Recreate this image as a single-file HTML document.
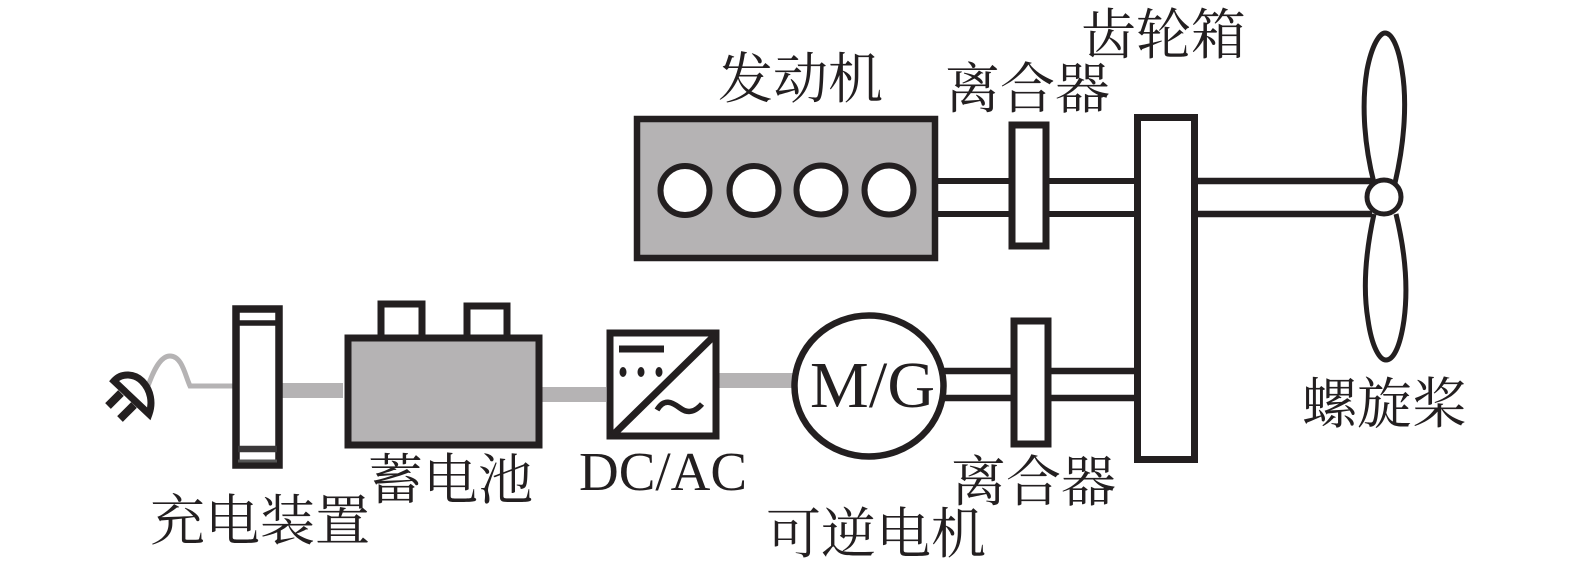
<!DOCTYPE html>
<html lang="zh">
<head>
<meta charset="utf-8">
<style>
html,body{margin:0;padding:0;background:#fff;width:1575px;height:575px;overflow:hidden}
svg{display:block}
text{fill:#231f20}
.c{font-family:"Liberation Serif","Noto Serif CJK SC",serif;font-size:55px}
.l{font-family:"Liberation Serif",serif;font-size:55px}
</style>
</head>
<body>
<svg width="1575" height="575" viewBox="0 0 1575 575" xmlns="http://www.w3.org/2000/svg">
<g fill="none" stroke="#231f20" stroke-width="6">
  <!-- grey links -->
  <rect x="282" y="383" width="61" height="15" fill="#b5b3b4" stroke="none"/>
  <rect x="542" y="387" width="64" height="15" fill="#b5b3b4" stroke="none"/>
  <rect x="719" y="373" width="74" height="15" fill="#b5b3b4" stroke="none"/>
  <path d="M148,386 C153,372 160,356 170,356 C182,356 185,375 190,386 L233,386" stroke="#b5b3b4" stroke-width="5"/>
  <!-- plug -->
  <path d="M114,381 C122,372 135,374 142,381 C151,390 153,403 149,414 Z" stroke-width="7" fill="#fff"/>
  <path d="M121,393 L108,406 M134,405 L120,419" stroke-width="8"/>
  <!-- charger -->
  <rect x="236" y="309" width="43" height="156" stroke-width="7.500" fill="#fff"/>
  <path d="M238,323 H277" stroke-width="5.500"/>
  <path d="M238,449 H277" stroke-width="6.500" stroke="#3a3839"/>
  <path d="M238,461 H277" stroke-width="3" stroke="#555"/>
  <!-- battery -->
  <rect x="381" y="304" width="41" height="34" stroke-width="7" fill="#fff"/>
  <rect x="467" y="306" width="40" height="32" stroke-width="7" fill="#fff"/>
  <rect x="348" y="338" width="191" height="107" stroke-width="7" fill="#b5b3b4"/>
  <!-- inverter -->
  <rect x="610" y="333" width="106" height="103" stroke-width="7" fill="#fff"/>
  <path d="M613,435 L715,335" stroke-width="7"/>
  <path d="M619,349 H664" stroke-width="7"/>
  <ellipse cx="623" cy="372" rx="3.500" ry="5" fill="#231f20" stroke="none"/>
  <ellipse cx="641" cy="372" rx="3.500" ry="5" fill="#231f20" stroke="none"/>
  <ellipse cx="659" cy="372" rx="3.500" ry="5" fill="#231f20" stroke="none"/>
  <path d="M657,410 C664,398 672,402 680,408 C688,414 695,412 702,404" stroke-width="5.500"/>
  <!-- lower shafts -->
  <path d="M942,371 H1134 M942,398 H1134" stroke-width="6.500"/>
  <!-- motor -->
  <ellipse cx="869" cy="386" rx="74.500" ry="70.500" stroke-width="6.500" fill="#fff"/>
  <!-- upper shafts -->
  <path d="M937,181 H1134 M937,214 H1134" stroke-width="6"/>
  <path d="M1198,181 H1372 M1198,214 H1372" stroke-width="6.500"/>
  <!-- engine -->
  <rect x="637" y="119" width="298" height="139" fill="#b5b3b4" stroke-width="6.500"/>
  <circle cx="685" cy="190.500" r="24.500" fill="#fff" stroke-width="6"/>
  <circle cx="754" cy="190.500" r="24.500" fill="#fff" stroke-width="6"/>
  <circle cx="821" cy="190" r="24.500" fill="#fff" stroke-width="6"/>
  <circle cx="889" cy="190" r="24.500" fill="#fff" stroke-width="6"/>
  <!-- clutches -->
  <rect x="1012" y="125" width="34" height="121" stroke-width="7" fill="#fff"/>
  <rect x="1014" y="321" width="34" height="123" stroke-width="7" fill="#fff"/>
  <!-- gearbox -->
  <rect x="1137.500" y="117.500" width="57" height="342" fill="#fff" stroke-width="7"/>
  <!-- propeller -->
  <path d="M1374,183 C1363,140 1362,100 1367,70 C1372,44 1380,33 1385,33 C1391,33 1398,44 1402,70 C1407,100 1405,140 1395,183" stroke-width="5"/>
  <path d="M1374,214 C1365,255 1363,290 1368,320 C1372,348 1380,360 1386,360 C1393,360 1400,348 1404,320 C1408,290 1406,255 1396,214" stroke-width="5"/>
  <circle cx="1384" cy="197" r="17" fill="#fff" stroke-width="5"/>
</g>
<text class="l" x="810" y="407" style="font-size:66px" textLength="125">M/G</text>
<text class="l" x="579" y="490" textLength="168">DC/AC</text>
<text class="c" x="718" y="98">发动机</text>
<text class="c" x="945" y="108">离合器</text>
<text class="c" x="1081" y="54">齿轮箱</text>
<text class="c" x="951" y="501">离合器</text>
<text class="c" x="766" y="553">可逆电机</text>
<text class="c" x="368" y="499">蓄电池</text>
<text class="c" x="150" y="540">充电装置</text>
<text class="c" x="1302" y="423">螺旋桨</text>
</svg>
</body>
</html>
